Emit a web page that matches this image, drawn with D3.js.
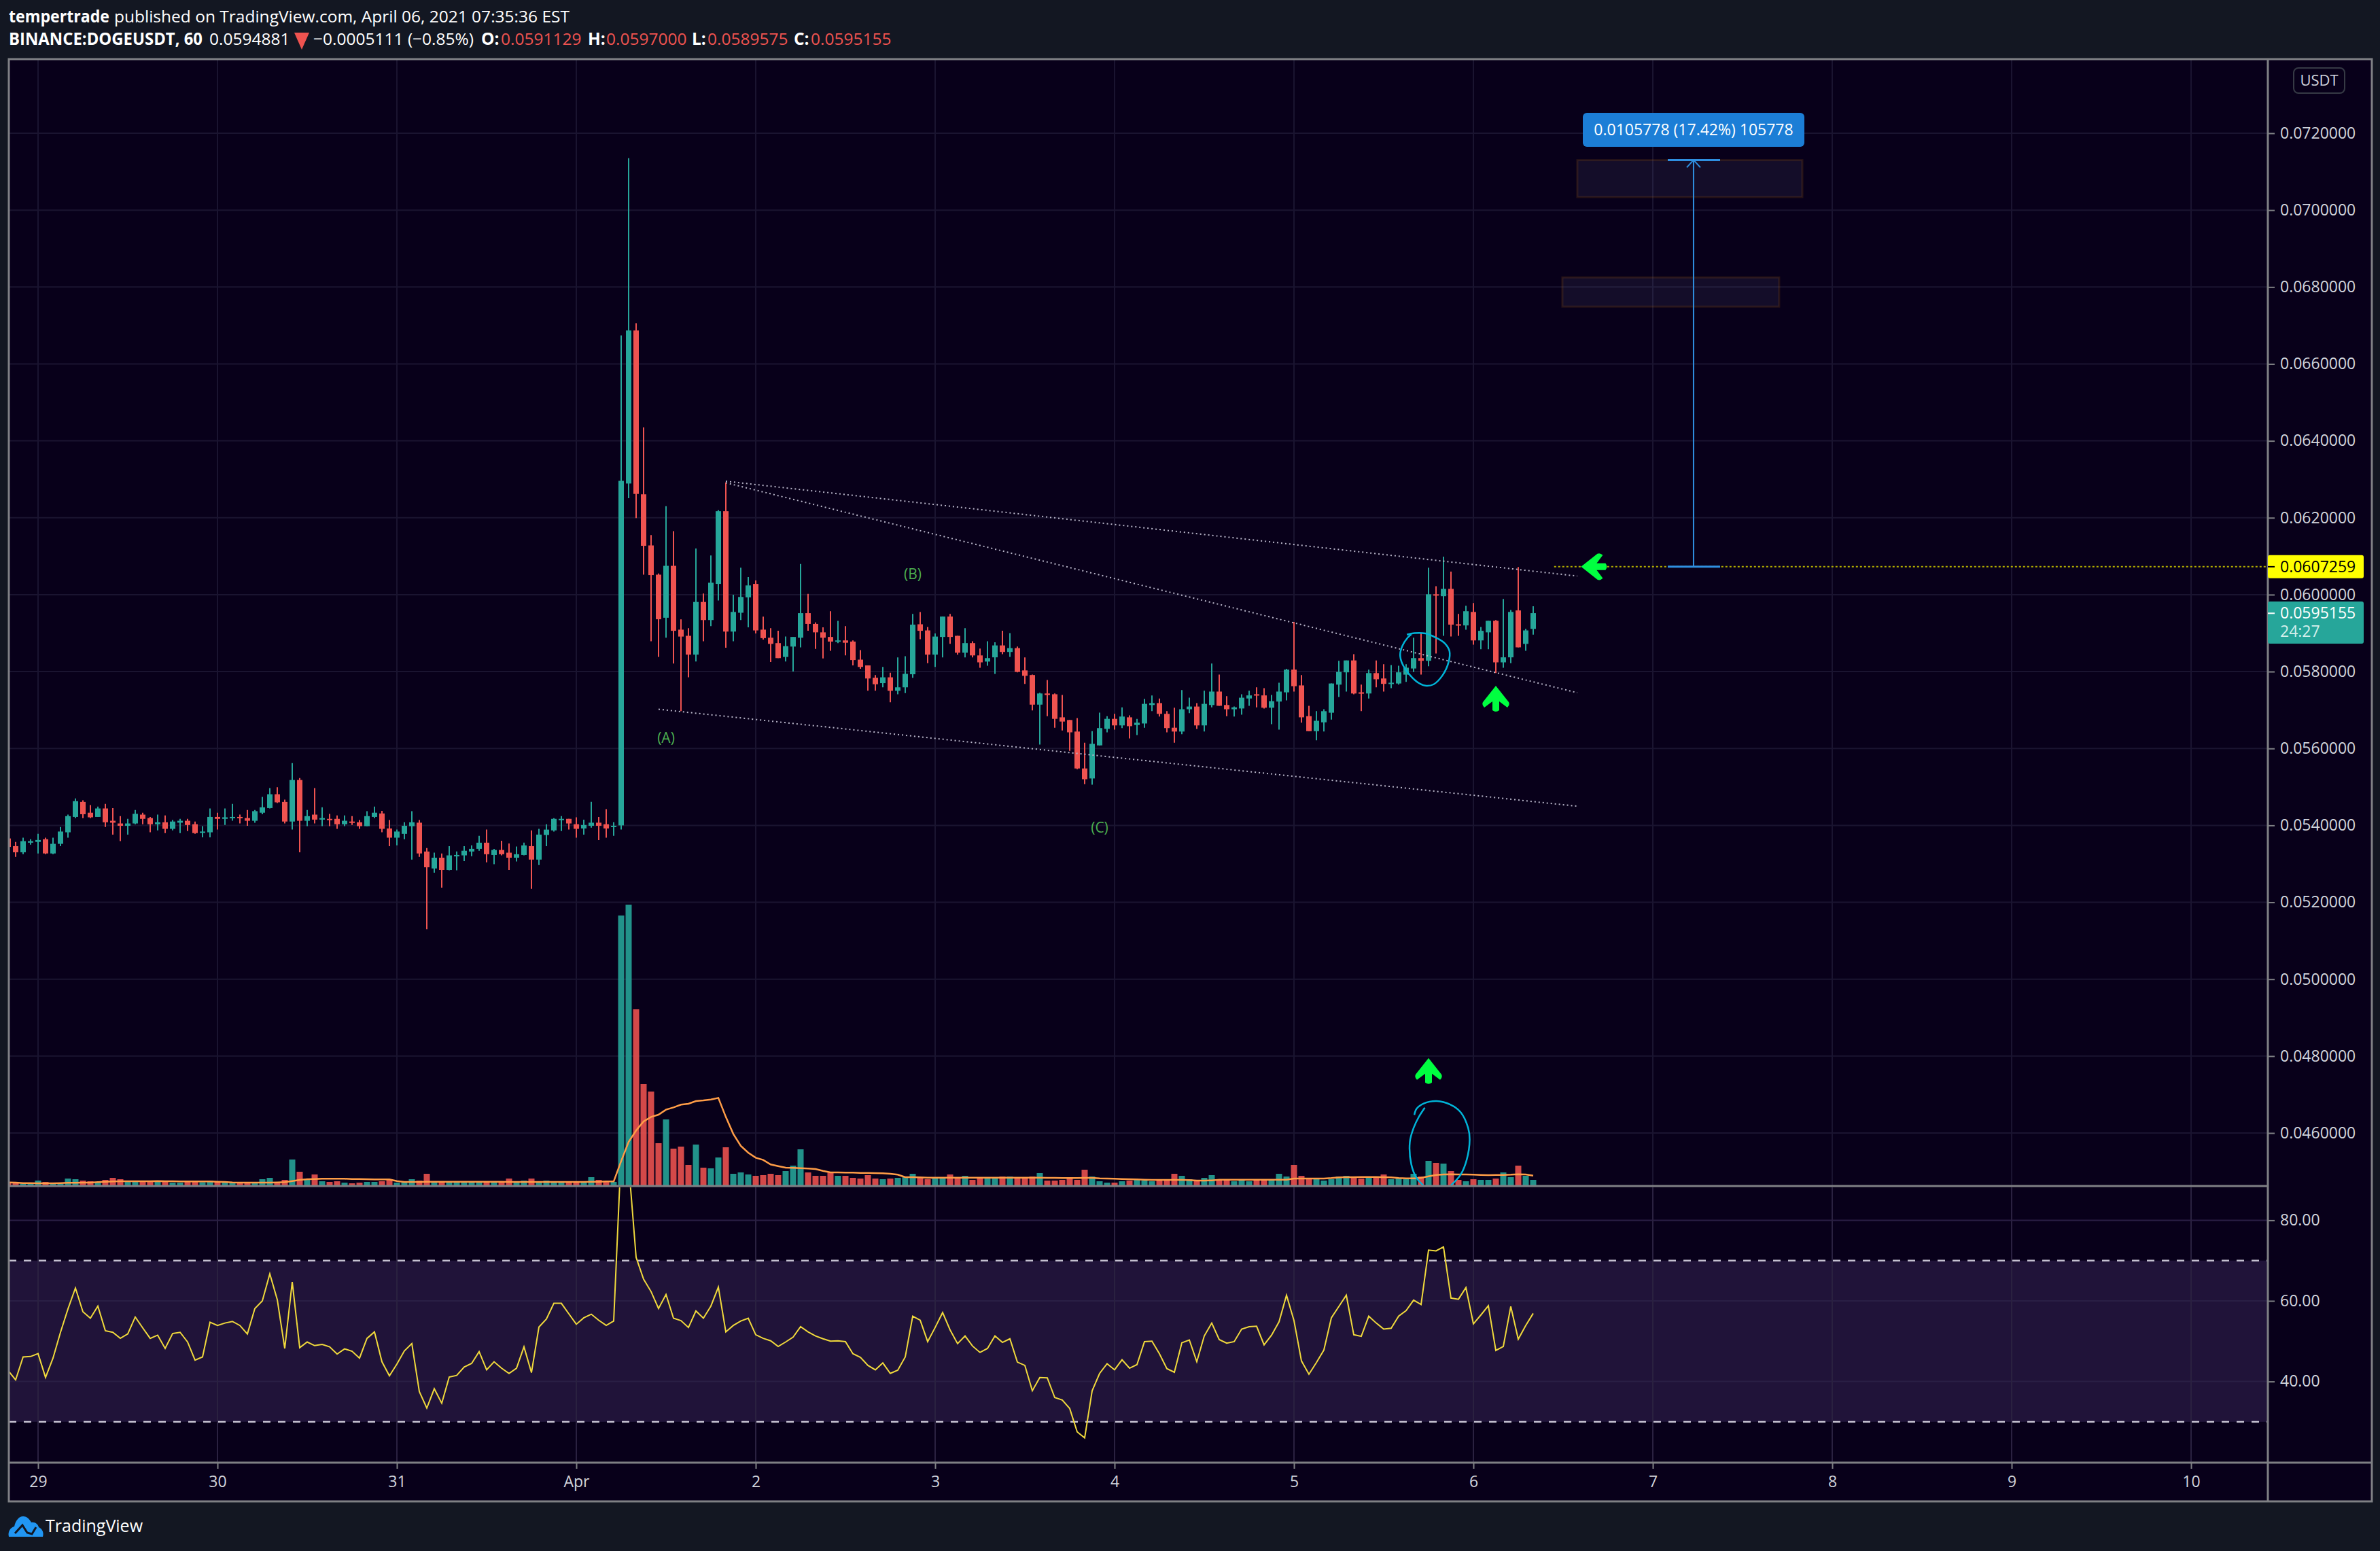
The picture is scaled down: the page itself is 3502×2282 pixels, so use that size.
<!DOCTYPE html>
<html>
<head>
<meta charset="utf-8">
<title>BINANCE:DOGEUSDT</title>
<script src="https://cdn.jsdelivr.net/npm/d3@7"></script>
<style>
html, body { margin: 0; padding: 0; background: #131722; }
svg { display: block; }
text { font-family: "Open Sans", sans-serif; }
</style>
</head>
<body>
<div id="chart"></div>
<script>
// one hourly bar per slot, bar 0 is 29 March 00:00
var firstBar = -4;

var opens = [
0.05366,0.05346,0.05330,0.05355,0.05357,0.05364,0.05327,0.05352,0.05382,0.05422,
0.05461,0.05433,0.05422,0.05444,0.05412,0.05405,0.05399,0.05405,0.05428,0.05419,
0.05403,0.05408,0.05391,0.05407,0.05412,0.05403,0.05382,0.05382,0.05422,0.05417,
0.05419,0.05422,0.05419,0.05412,0.05433,0.05445,0.05481,0.05461,0.05410,0.05518,
0.05412,0.05428,0.05415,0.05417,0.05417,0.05403,0.05410,0.05408,0.05398,0.05422,
0.05431,0.05392,0.05368,0.05378,0.05398,0.05407,0.05332,0.05288,0.05316,0.05284,
0.05320,0.05322,0.05332,0.05339,0.05355,0.05323,0.05336,0.05329,0.05316,0.05323,
0.05346,0.05311,0.05375,0.05387,0.05414,0.05417,0.05403,0.05392,0.05399,0.05407,
0.05403,0.05396,0.05400,0.06289,0.06687,0.06261,0.06128,0.06052,0.05940,0.06075,
0.05909,0.05893,0.05844,0.05981,0.05934,0.06028,0.06217,0.05904,0.05953,0.05993,
0.06028,0.05909,0.05888,0.05874,0.05838,0.05865,0.05888,0.05952,0.05924,0.05902,
0.05890,0.05878,0.05881,0.05878,0.05831,0.05816,0.05784,0.05770,0.05785,0.05750,
0.05759,0.05793,0.05923,0.05907,0.05844,0.05890,0.05943,0.05893,0.05849,0.05874,
0.05842,0.05826,0.05837,0.05868,0.05851,0.05861,0.05803,0.05791,0.05714,0.05743,
0.05741,0.05681,0.05674,0.05644,0.05548,0.05522,0.05608,0.05651,0.05677,0.05660,
0.05681,0.05661,0.05665,0.05713,0.05718,0.05690,0.05654,0.05644,0.05702,0.05709,
0.05660,0.05713,0.05748,0.05713,0.05702,0.05704,0.05730,0.05741,0.05738,0.05706,
0.05722,0.05746,0.05805,0.05764,0.05684,0.05645,0.05668,0.05693,0.05766,0.05798,
0.05829,0.05746,0.05743,0.05796,0.05782,0.05768,0.05769,0.05792,0.05808,0.05835,
0.05828,0.06001,0.05996,0.06015,0.05923,0.05920,0.05955,0.05881,0.05902,0.05932,
0.05824,0.05837,0.05959,0.05872,0.05911];

var highs = [
0.05366,0.05357,0.05368,0.05364,0.05378,0.05368,0.05368,0.05396,0.05428,0.05470,
0.05465,0.05453,0.05449,0.05456,0.05445,0.05424,0.05417,0.05440,0.05433,0.05422,
0.05428,0.05426,0.05414,0.05417,0.05417,0.05410,0.05398,0.05444,0.05433,0.05444,
0.05456,0.05428,0.05440,0.05440,0.05474,0.05497,0.05499,0.05467,0.05562,0.05523,
0.05440,0.05497,0.05447,0.05430,0.05426,0.05426,0.05424,0.05414,0.05437,0.05449,
0.05438,0.05414,0.05389,0.05408,0.05437,0.05414,0.05341,0.05329,0.05327,0.05346,
0.05332,0.05346,0.05348,0.05373,0.05389,0.05339,0.05360,0.05353,0.05345,0.05355,
0.05387,0.05391,0.05403,0.05419,0.05424,0.05417,0.05421,0.05415,0.05461,0.05422,
0.05442,0.05408,0.06674,0.07135,0.06706,0.06435,0.06155,0.06055,0.06230,0.06165,
0.05936,0.05913,0.06120,0.06003,0.06102,0.06220,0.06292,0.06000,0.06070,0.06046,
0.06037,0.05943,0.05913,0.05906,0.05891,0.05890,0.06080,0.06002,0.05928,0.05915,
0.05957,0.05932,0.05918,0.05881,0.05856,0.05816,0.05791,0.05812,0.05797,0.05837,
0.05840,0.05950,0.05955,0.05916,0.05899,0.05943,0.05950,0.05893,0.05913,0.05879,
0.05860,0.05879,0.05876,0.05906,0.05900,0.05865,0.05837,0.05792,0.05745,0.05778,
0.05743,0.05739,0.05674,0.05679,0.05615,0.05645,0.05693,0.05684,0.05690,0.05707,
0.05686,0.05677,0.05729,0.05738,0.05730,0.05697,0.05706,0.05752,0.05732,0.05718,
0.05750,0.05821,0.05792,0.05736,0.05709,0.05741,0.05750,0.05759,0.05757,0.05739,
0.05771,0.05807,0.05929,0.05791,0.05711,0.05697,0.05702,0.05769,0.05828,0.05829,
0.05845,0.05766,0.05805,0.05829,0.05819,0.05817,0.05815,0.05819,0.05888,0.05899,
0.06070,0.06022,0.06099,0.06060,0.05950,0.05971,0.05978,0.05916,0.05932,0.05934,
0.05989,0.05960,0.06072,0.05911,0.05970];

var lows = [
0.05344,0.05318,0.05325,0.05350,0.05327,0.05325,0.05325,0.05346,0.05368,0.05419,
0.05419,0.05419,0.05422,0.05396,0.05376,0.05359,0.05376,0.05403,0.05403,0.05382,
0.05387,0.05380,0.05387,0.05380,0.05385,0.05378,0.05369,0.05369,0.05389,0.05401,
0.05412,0.05405,0.05399,0.05407,0.05429,0.05444,0.05458,0.05405,0.05389,0.05330,
0.05398,0.05405,0.05398,0.05398,0.05391,0.05398,0.05401,0.05391,0.05398,0.05419,
0.05382,0.05346,0.05348,0.05364,0.05311,0.05318,0.05130,0.05277,0.05238,0.05283,
0.05283,0.05307,0.05320,0.05334,0.05304,0.05299,0.05322,0.05284,0.05306,0.05322,
0.05235,0.05297,0.05346,0.05384,0.05385,0.05389,0.05368,0.05376,0.05394,0.05362,
0.05368,0.05373,0.05389,0.06251,0.06199,0.06052,0.05879,0.05838,0.05888,0.05821,
0.05697,0.05785,0.05826,0.05879,0.05918,0.05985,0.05862,0.05879,0.05934,0.05915,
0.05899,0.05883,0.05825,0.05835,0.05826,0.05800,0.05863,0.05906,0.05859,0.05834,
0.05854,0.05874,0.05842,0.05816,0.05807,0.05750,0.05750,0.05759,0.05720,0.05741,
0.05744,0.05784,0.05884,0.05822,0.05812,0.05837,0.05872,0.05844,0.05837,0.05837,
0.05810,0.05815,0.05794,0.05845,0.05838,0.05798,0.05768,0.05699,0.05610,0.05684,
0.05654,0.05647,0.05594,0.05546,0.05507,0.05506,0.05608,0.05642,0.05649,0.05653,
0.05626,0.05635,0.05654,0.05697,0.05683,0.05642,0.05615,0.05637,0.05692,0.05651,
0.05644,0.05707,0.05711,0.05684,0.05683,0.05688,0.05711,0.05707,0.05704,0.05663,
0.05649,0.05725,0.05748,0.05667,0.05645,0.05621,0.05644,0.05675,0.05734,0.05748,
0.05741,0.05697,0.05730,0.05759,0.05748,0.05757,0.05766,0.05773,0.05799,0.05792,
0.05814,0.05847,0.05893,0.05891,0.05893,0.05909,0.05870,0.05858,0.05858,0.05796,
0.05810,0.05822,0.05863,0.05854,0.05896];

var closes = [
0.05344,0.05330,0.05359,0.05359,0.05362,0.05327,0.05352,0.05384,0.05424,0.05463,
0.05429,0.05421,0.05444,0.05408,0.05407,0.05399,0.05405,0.05430,0.05417,0.05403,
0.05408,0.05391,0.05410,0.05412,0.05401,0.05380,0.05384,0.05422,0.05417,0.05421,
0.05422,0.05419,0.05412,0.05437,0.05447,0.05481,0.05460,0.05410,0.05518,0.05412,
0.05424,0.05415,0.05419,0.05414,0.05403,0.05412,0.05407,0.05398,0.05424,0.05433,
0.05391,0.05368,0.05384,0.05399,0.05408,0.05327,0.05291,0.05316,0.05284,0.05322,
0.05323,0.05334,0.05339,0.05355,0.05325,0.05336,0.05325,0.05316,0.05325,0.05348,
0.05311,0.05376,0.05389,0.05417,0.05417,0.05405,0.05391,0.05401,0.05407,0.05399,
0.05392,0.05399,0.06296,0.06687,0.06262,0.06127,0.06051,0.05936,0.06075,0.05906,
0.05891,0.05844,0.05981,0.05934,0.06031,0.06217,0.05904,0.05955,0.05994,0.06024,
0.05907,0.05887,0.05872,0.05835,0.05866,0.05890,0.05952,0.05924,0.05902,0.05888,
0.05878,0.05881,0.05875,0.05830,0.05812,0.05782,0.05767,0.05785,0.05750,0.05759,
0.05794,0.05922,0.05906,0.05844,0.05891,0.05943,0.05890,0.05849,0.05874,0.05842,
0.05824,0.05835,0.05868,0.05851,0.05861,0.05799,0.05789,0.05714,0.05743,0.05739,
0.05677,0.05670,0.05642,0.05548,0.05520,0.05612,0.05653,0.05677,0.05660,0.05683,
0.05658,0.05667,0.05716,0.05718,0.05690,0.05653,0.05644,0.05702,0.05709,0.05660,
0.05716,0.05748,0.05711,0.05702,0.05707,0.05732,0.05738,0.05738,0.05706,0.05723,
0.05748,0.05805,0.05762,0.05681,0.05645,0.05672,0.05697,0.05769,0.05799,0.05829,
0.05743,0.05743,0.05796,0.05780,0.05768,0.05771,0.05798,0.05810,0.05835,0.05828,
0.06001,0.05998,0.06015,0.05922,0.05920,0.05957,0.05881,0.05906,0.05932,0.05824,
0.05837,0.05955,0.05863,0.05907,0.05952];

var volumes = [
10,10,8,7,21,15,8,8,30,27,
21,18,12,24,33,27,17,17,17,17,
17,20,12,12,15,15,14,21,15,12,
12,12,12,9,27,33,15,24,114,60,
27,48,18,15,18,12,9,12,15,15,
18,27,12,18,27,21,51,18,15,15,
12,15,12,15,15,15,15,30,18,21,
30,15,21,12,12,12,12,15,36,24,
18,15,1191,1239,777,447,414,186,291,162,
171,90,180,78,75,123,168,51,57,48,
42,45,51,45,63,87,159,57,42,42,
56,42,42,33,30,45,30,27,30,33,
36,51,33,27,30,36,48,36,42,24,
36,30,33,39,39,33,33,39,54,21,
21,24,30,24,69,39,18,12,12,18,
21,24,21,18,21,24,51,42,27,18,
33,45,24,24,18,21,18,24,24,27,
51,39,90,42,27,27,21,27,39,42,
33,30,33,39,48,27,30,27,51,39,
108,99,96,63,24,18,27,24,24,30,
57,36,87,42,24];

var volumeAvg = [
13,12,10,10,9,9,9,10,11,11,
12,12,14,16,17,18,18,18,18,18,
19,18,18,17,17,17,17,17,16,15,
13,12,12,12,12,12,13,14,19,24,
27,28,29,29,29,29,28,28,27,26,
26,26,19,15,15,15,16,16,16,16,
16,16,16,16,16,16,16,15,15,15,
15,15,15,15,15,15,15,15,16,16,
17,17,107,192,242,282,302,312,334,344,
356,360,372,375,379,386,302,227,174,144,
122,112,92,85,78,77,76,74,72,64,
57,57,56,56,55,55,54,53,51,47,
36,36,35,34,34,34,34,34,34,34,
34,34,34,34,34,34,34,34,34,33,
33,32,32,32,33,33,31,30,29,28,
27,26,25,24,24,24,24,24,23,21,
21,22,25,25,25,25,25,25,25,25,
25,25,30,30,30,30,30,32,35,36,
36,37,37,37,36,35,32,31,31,33,
40,46,48,49,48,48,47,46,45,46,
46,47,49,48,43];

var rsiValues = [
42.7,40.4,46.1,46.2,46.9,41.0,45.8,52.2,58.0,63.2,
57.3,55.7,58.7,52.6,52.2,50.7,51.8,56.0,53.3,50.7,
51.5,48.2,51.9,52.2,49.8,45.3,46.1,54.7,53.9,54.5,
54.9,53.9,51.8,58.1,60.0,66.7,60.3,48.2,64.7,48.4,
49.8,48.9,49.2,48.6,46.8,48.1,47.5,45.8,50.7,52.3,
44.9,41.4,44.3,47.6,49.4,37.5,33.4,38.2,34.6,41.1,
41.5,43.6,44.5,47.4,42.9,44.9,43.3,42.0,43.3,48.6,
42.2,53.5,55.5,59.4,59.4,56.8,54.2,55.8,56.7,55.2,
53.9,55.0,97.0,94.0,70.8,65.4,62.3,58.1,61.6,55.7,
55.1,53.4,57.5,55.7,58.7,63.4,52.3,53.9,55.0,55.7,
51.6,50.7,50.1,48.7,49.8,51.0,53.6,52.3,51.3,50.6,
50.0,50.1,49.9,46.9,46.0,44.0,42.9,44.6,42.0,42.8,
46.1,56.2,55.2,49.9,53.4,57.1,52.8,49.4,51.3,48.8,
47.2,48.2,51.3,49.7,50.6,44.8,44.0,37.7,41.0,40.9,
36.0,35.4,33.3,27.5,26.0,37.7,42.0,44.4,42.9,45.4,
43.3,44.2,49.9,50.0,46.9,43.2,42.3,49.6,50.3,44.9,
51.3,54.5,50.4,49.5,49.9,53.0,53.6,53.7,49.1,51.5,
54.8,61.4,55.1,45.1,41.8,44.7,47.8,55.8,58.6,61.4,
51.6,51.2,56.2,54.5,53.0,53.2,56.2,57.6,60.2,59.1,
72.6,72.4,73.4,60.7,60.4,63.3,54.3,56.5,58.8,47.7,
48.7,58.6,50.5,53.9,56.9];

var priceTicks = [0.072,0.070,0.068,0.066,0.064,0.062,0.060,0.058,0.056,0.054,0.052,0.050,0.048,0.046];
var rsiTicks = [80,60,40];
var dayBars = [0,24,48,72,96,120,144,168,192,216,240,264,288];
var dayLabels = ["29","30","31","Apr","2","3","4","5","6","7","8","9","10"];

var lastPrice = 0.0595155;
var targetBase = 0.0607259;
var targetTop = 0.0713037;

// drawings, [bar, price]
var trendLines = [
    [[92, 0.06295], [205.9, 0.060483]],
    [[92, 0.06291], [205.9, 0.05745]],
    [[83, 0.05702], [205.8, 0.0545]]
];
var zones = [
    {bar0: 205.9, bar1: 236, top: 0.0713, bottom: 0.07034},
    {bar0: 203.9, bar1: 232.9, top: 0.06825, bottom: 0.06749}
];
var waveLabels = [
    {bar: 84, price: 0.05629, text: "(A)"},
    {bar: 117, price: 0.06055, text: "(B)"},
    {bar: 142, price: 0.05396, text: "(C)"}
];
var circlePrice = [
    [183.1,0.05896],[184.1,0.059],[185.6,0.05899],[187,0.05888],[188.2,0.05873],[188.8,0.05853],
    [188.7,0.05826],[187.9,0.05791],[186.7,0.05767],[185.7,0.05763],[184.7,0.0577],[183.5,0.05791],
    [182.5,0.0582],[182.2,0.05844],[182.5,0.05867],[183.2,0.05888],[183.7,0.05897]
];
var circleVolume = [
    [184.1,0.04647],[184.4,0.04663],[185.4,0.04677],[187.1,0.04683],[188.9,0.04674],[190.3,0.04654],
    [191.3,0.04613],[191.5,0.04583],[191.1,0.0453],[190.3,0.04492],[189,0.04464]
];
var circleVolume2 = [
    [185.5,0.04666],[184.7,0.04642],[184,0.04613],[183.5,0.04577],[183.7,0.04518],[184.4,0.04483],[185.4,0.04462]
];
var arrows = [
    {bar: 195, price: 0.05763, angle: 0},
    {bar: 186, price: 0.04795, angle: 0},
    {bar: 206.4, price: 0.0607259, angle: -90}
];

var green = "#26a69a", red = "#ef5350";
var paneLeft = 13, paneRight = 3337, frameRight = 3490;
var paneTop = 87, paneBottom = 1745, rsiBottom = 2152, frameBottom = 2209;
var axisFont = 23;

var svg = d3.select("#chart").append("svg")
    .attr("width", 3502)
    .attr("height", 2282);

var x = d3.scaleLinear().domain([0, 288]).range([56, 3224]);
var y = d3.scaleLinear().domain([0.072, 0.046]).range([196, 1667]);
var yVol = d3.scaleLinear().domain([0, 1239]).range([1744, 1331]);
var yRsi = d3.scaleLinear().domain([70, 30]).range([1854.7, 2091.9]);

var bars = opens.map(function (o, i) {
    return {bar: firstBar + i, open: o, high: highs[i], low: lows[i], close: closes[i],
        volume: volumes[i], avg: volumeAvg[i], rsi: rsiValues[i]};
});
function barColor(d) { return d.close >= d.open ? green : red; }

var defs = svg.append("defs");
defs.append("clipPath").attr("id", "mainClip").append("rect")
    .attr("x", paneLeft).attr("y", paneTop)
    .attr("width", paneRight - paneLeft).attr("height", paneBottom - paneTop);
defs.append("clipPath").attr("id", "rsiClip").append("rect")
    .attr("x", paneLeft).attr("y", paneBottom + 2)
    .attr("width", paneRight - paneLeft).attr("height", rsiBottom - paneBottom - 2);

/* ------- BACKGROUND AND GRID -------*/
svg.append("rect").attr("width", 3502).attr("height", 2282).attr("fill", "#131722");
svg.append("rect")
    .attr("x", paneLeft).attr("y", paneTop)
    .attr("width", frameRight - paneLeft).attr("height", frameBottom - paneTop)
    .attr("fill", "#08001a");

var grid = svg.append("g").attr("stroke", "#1a1430").attr("stroke-width", 2);
grid.selectAll("line.v").data(dayBars).enter().append("line")
    .attr("class", "v")
    .attr("x1", function (d) { return x(d); }).attr("x2", function (d) { return x(d); })
    .attr("y1", paneTop).attr("y2", rsiBottom);
grid.selectAll("line.h").data(priceTicks).enter().append("line")
    .attr("class", "h")
    .attr("x1", paneLeft).attr("x2", paneRight)
    .attr("y1", function (d) { return y(d); }).attr("y2", function (d) { return y(d); });

/* ------- RSI PANE -------*/
var rsiPane = svg.append("g").attr("clip-path", "url(#rsiClip)");
rsiPane.append("rect")
    .attr("x", paneLeft).attr("width", paneRight - paneLeft)
    .attr("y", yRsi(70)).attr("height", yRsi(30) - yRsi(70))
    .attr("fill", "#201339");
rsiPane.selectAll("line.grid").data(rsiTicks).enter().append("line")
    .attr("class", "grid")
    .attr("x1", paneLeft).attr("x2", paneRight)
    .attr("y1", function (d) { return yRsi(d); }).attr("y2", function (d) { return yRsi(d); })
    .attr("stroke", "#2a1f45").attr("stroke-width", 2);
rsiPane.selectAll("line.day").data(dayBars).enter().append("line")
    .attr("class", "day")
    .attr("x1", function (d) { return x(d); }).attr("x2", function (d) { return x(d); })
    .attr("y1", paneBottom).attr("y2", rsiBottom)
    .attr("stroke", "#2a2140").attr("stroke-width", 2);
rsiPane.selectAll("line.level").data([70, 30]).enter().append("line")
    .attr("class", "level")
    .attr("x1", paneLeft).attr("x2", paneRight)
    .attr("y1", function (d) { return yRsi(d); }).attr("y2", function (d) { return yRsi(d); })
    .attr("stroke", "#c4c0d0").attr("stroke-width", 2.5)
    .attr("stroke-dasharray", "11 11");
rsiPane.append("path")
    .attr("d", d3.line()
        .x(function (d) { return x(d.bar); })
        .y(function (d) { return yRsi(d.rsi); })(bars))
    .attr("fill", "none").attr("stroke", "#f0d93c").attr("stroke-width", 2);

/* ------- VOLUME AND CANDLES -------*/
var main = svg.append("g").attr("clip-path", "url(#mainClip)");

main.append("g").selectAll("rect").data(bars).enter().append("rect")
    .attr("x", function (d) { return x(d.bar) - 4.5; })
    .attr("width", 9)
    .attr("y", function (d) { return yVol(d.volume); })
    .attr("height", function (d) { return yVol(0) - yVol(d.volume); })
    .attr("fill", barColor)
    .attr("fill-opacity", 0.88);

main.append("path")
    .attr("d", d3.line()
        .x(function (d) { return x(d.bar); })
        .y(function (d) { return yVol(d.avg); })(bars))
    .attr("fill", "none").attr("stroke", "#ff9d47").attr("stroke-width", 2.5);

main.append("g").selectAll("line").data(bars).enter().append("line")
    .attr("x1", function (d) { return x(d.bar); })
    .attr("x2", function (d) { return x(d.bar); })
    .attr("y1", function (d) { return y(d.high); })
    .attr("y2", function (d) { return y(d.low); })
    .attr("stroke", barColor)
    .attr("stroke-width", 2);

main.append("g").selectAll("rect").data(bars).enter().append("rect")
    .attr("x", function (d) { return x(d.bar) - 4; })
    .attr("width", 8)
    .attr("y", function (d) { return y(Math.max(d.open, d.close)); })
    .attr("height", function (d) { return Math.max(2, Math.abs(y(d.open) - y(d.close))); })
    .attr("fill", barColor);

/* ------- DRAWINGS -------*/
var drawn = svg.append("g").attr("clip-path", "url(#mainClip)");

drawn.selectAll("rect.zone").data(zones).enter().append("rect")
    .attr("class", "zone")
    .attr("x", function (d) { return x(d.bar0); })
    .attr("width", function (d) { return x(d.bar1) - x(d.bar0); })
    .attr("y", function (d) { return y(d.top); })
    .attr("height", function (d) { return y(d.bottom) - y(d.top); })
    .attr("fill", "#6f6f9f").attr("fill-opacity", 0.12)
    .attr("stroke", "#ff9800").attr("stroke-opacity", 0.12).attr("stroke-width", 3);

var priceLine = d3.line()
    .x(function (d) { return x(d[0]); })
    .y(function (d) { return y(d[1]); });

drawn.selectAll("path.trend").data(trendLines).enter().append("path")
    .attr("class", "trend")
    .attr("d", priceLine)
    .attr("fill", "none").attr("stroke", "#b9b6c9").attr("stroke-width", 2)
    .attr("stroke-dasharray", "2 4");

drawn.append("line")
    .attr("x1", x(202.8)).attr("x2", paneRight)
    .attr("y1", y(targetBase)).attr("y2", y(targetBase))
    .attr("stroke", "#b0aa00").attr("stroke-width", 2).attr("stroke-dasharray", "3 3");

// measure tool
drawn.append("line")
    .attr("x1", x(221.45)).attr("x2", x(221.45))
    .attr("y1", y(targetTop)).attr("y2", y(targetBase))
    .attr("stroke", "#2f8fe0").attr("stroke-width", 2);
drawn.selectAll("line.cap").data([targetTop, targetBase]).enter().append("line")
    .attr("class", "cap")
    .attr("x1", x(218)).attr("x2", x(225))
    .attr("y1", function (d) { return y(d); }).attr("y2", function (d) { return y(d); })
    .attr("stroke", "#2f8fe0").attr("stroke-width", 3);
drawn.append("path")
    .attr("transform", "translate(" + x(221.45) + "," + y(targetTop) + ")")
    .attr("d", "M-10,11 L0,0 L10,11")
    .attr("fill", "none").attr("stroke", "#2f8fe0").attr("stroke-width", 2);
drawn.append("rect")
    .attr("x", 2329).attr("y", 166).attr("width", 326).attr("height", 50).attr("rx", 6)
    .attr("fill", "#1c7ed6");
drawn.append("text")
    .attr("x", 2492).attr("y", 199)
    .attr("text-anchor", "middle")
    .attr("fill", "#ffffff").attr("font-size", 23)
    .text("0.0105778 (17.42%) 105778");

drawn.selectAll("text.wave").data(waveLabels).enter().append("text")
    .attr("class", "wave")
    .attr("x", function (d) { return x(d.bar); })
    .attr("y", function (d) { return y(d.price); })
    .attr("text-anchor", "middle").attr("dominant-baseline", "central")
    .attr("fill", "#4caf50").attr("font-size", 21)
    .text(function (d) { return d.text; });

var handLine = d3.line()
    .x(function (d) { return x(d[0]); })
    .y(function (d) { return y(d[1]); })
    .curve(d3.curveCatmullRom);
drawn.selectAll("path.hand").data([circlePrice, circleVolume, circleVolume2]).enter().append("path")
    .attr("class", "hand")
    .attr("d", handLine)
    .attr("fill", "none").attr("stroke", "#00b4d8").attr("stroke-width", 2.5);

drawn.selectAll("path.arrow").data(arrows).enter().append("path")
    .attr("class", "arrow")
    .attr("transform", function (d) {
        return "translate(" + x(d.bar) + "," + y(d.price) + ") rotate(" + d.angle + ")";
    })
    .attr("d", "M0,0 L19,24 Q21,28 17,32 L5,23 L5,36 Q0,40 -5,36 L-5,23 L-17,32 Q-21,28 -19,24 Z")
    .attr("fill", "#00ff40");

/* ------- FRAME -------*/
var frame = svg.append("g").attr("stroke", "#7f8084").attr("stroke-width", 3);
frame.append("rect")
    .attr("x", paneLeft).attr("y", paneTop)
    .attr("width", frameRight - paneLeft).attr("height", frameBottom - paneTop)
    .attr("fill", "none");
frame.append("line").attr("x1", paneRight).attr("x2", paneRight).attr("y1", paneTop).attr("y2", frameBottom);
frame.append("line").attr("x1", paneLeft).attr("x2", paneRight).attr("y1", paneBottom).attr("y2", paneBottom);
frame.append("line").attr("x1", paneLeft).attr("x2", frameRight).attr("y1", rsiBottom).attr("y2", rsiBottom);

/* ------- AXES -------*/
function styleAxis(g) {
    g.select(".domain").remove();
    g.selectAll(".tick line").attr("stroke", "#7f8084").attr("stroke-width", 2);
    g.selectAll(".tick text")
        .attr("fill", "#d1d4dc")
        .attr("font-size", axisFont)
        .attr("font-family", "\"Open Sans\", sans-serif");
}

svg.append("g")
    .attr("transform", "translate(" + paneRight + ",0)")
    .call(d3.axisRight(y).tickValues(priceTicks).tickFormat(d3.format(".7f")).tickSize(10).tickPadding(8))
    .call(styleAxis);
svg.append("g")
    .attr("transform", "translate(" + paneRight + ",0)")
    .call(d3.axisRight(yRsi).tickValues(rsiTicks).tickFormat(d3.format(".2f")).tickSize(10).tickPadding(8))
    .call(styleAxis);
svg.append("g")
    .attr("transform", "translate(0," + rsiBottom + ")")
    .call(d3.axisBottom(x).tickValues(dayBars).tickFormat(function (d, i) { return dayLabels[i]; }).tickSize(9).tickPadding(11))
    .call(styleAxis);

// price labels on the axis
svg.append("rect").attr("x", paneRight).attr("y", y(targetBase) - 17)
    .attr("width", 141).attr("height", 34).attr("rx", 3).attr("fill", "#ffff00");
svg.append("line").attr("x1", paneRight).attr("x2", paneRight + 10)
    .attr("y1", y(targetBase)).attr("y2", y(targetBase))
    .attr("stroke", "#000000").attr("stroke-width", 2);
svg.append("text").attr("x", paneRight + 18).attr("y", y(targetBase) + 8)
    .attr("fill", "#000000").attr("font-size", axisFont)
    .text(d3.format(".7f")(targetBase));

svg.append("rect").attr("x", paneRight).attr("y", 885)
    .attr("width", 141).attr("height", 62).attr("rx", 3).attr("fill", green);
svg.append("line").attr("x1", paneRight).attr("x2", paneRight + 10)
    .attr("y1", y(lastPrice)).attr("y2", y(lastPrice))
    .attr("stroke", "#ffffff").attr("stroke-width", 2);
svg.append("text").attr("x", paneRight + 18).attr("y", y(lastPrice) + 8)
    .attr("fill", "#ffffff").attr("font-size", axisFont)
    .text(d3.format(".7f")(lastPrice));
svg.append("text").attr("x", paneRight + 18).attr("y", 937)
    .attr("fill", "#d4eeeb").attr("font-size", axisFont)
    .text("24:27");

svg.append("rect").attr("x", 3375).attr("y", 100).attr("width", 75).attr("height", 37).attr("rx", 7)
    .attr("fill", "none").attr("stroke", "#363a45").attr("stroke-width", 2);
svg.append("text").attr("x", 3412.5).attr("y", 126)
    .attr("text-anchor", "middle")
    .attr("fill", "#d1d4dc").attr("font-size", 22)
    .text("USDT");

/* ------- HEADER -------*/
var headerFont = 24.5;
function headerText(px, py, str, color, bold, width) {
    var t = svg.append("text")
        .attr("x", px).attr("y", py)
        .attr("fill", color).attr("font-size", headerFont)
        .attr("font-weight", bold ? 700 : 400)
        .text(str);
    // the bold header runs are narrower than the stand-in font
    if (width) t.attr("textLength", width).attr("lengthAdjust", "spacingAndGlyphs");
}
headerText(13, 33, "tempertrade", "#ffffff", true, 148);
headerText(168, 33, "published on TradingView.com, April 06, 2021 07:35:36 EST", "#ffffff", false);
headerText(13, 66, "BINANCE:DOGEUSDT, 60", "#ffffff", true, 285);
headerText(308, 66, "0.0594881", "#ffffff", false);
svg.append("path").attr("d", "M433,48 L455,48 L444,73 Z").attr("fill", red);
headerText(461, 66, "\u22120.0005111 (\u22120.85%)", "#ffffff", false);
headerText(708, 66, "O:", "#ffffff", true);
headerText(737, 66, "0.0591129", red, false);
headerText(865, 66, "H:", "#ffffff", true);
headerText(892, 66, "0.0597000", red, false);
headerText(1018, 66, "L:", "#ffffff", true);
headerText(1041, 66, "0.0589575", red, false);
headerText(1168, 66, "C:", "#ffffff", true);
headerText(1193, 66, "0.0595155", red, false);

/* ------- FOOTER LOGO -------*/
var logo = svg.append("g").attr("transform", "translate(13,2231)");
logo.append("path")
    .attr("d", "M0,30 C-2,22 3,16 8,15 C10,6 15,0 21,0 C27,0 31,5 33,9 C39,8 43,12 44,16 C49,18 52,24 50,30 Z")
    .attr("fill", "#2196f3");
logo.append("path")
    .attr("d", "M9,25 L20,13 L27,24 L34,26 L40,16")
    .attr("fill", "none").attr("stroke", "#131722").attr("stroke-width", 3);
svg.append("text").attr("x", 67).attr("y", 2254)
    .attr("fill", "#ffffff").attr("font-size", 25)
    .text("TradingView");
</script>
</body>
</html>
